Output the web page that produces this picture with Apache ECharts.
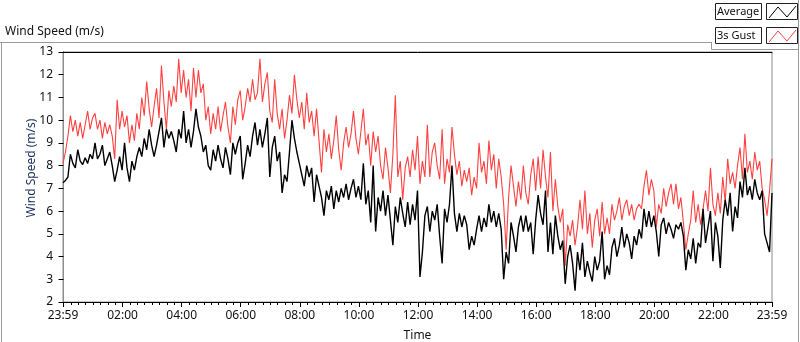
<!DOCTYPE html>
<html>
<head>
<meta charset="utf-8">
<script src="https://cdn.jsdelivr.net/npm/echarts@6/dist/echarts.min.js"></script>
<style>
  html, body { margin: 0; padding: 0; background: #fff; }
  #chart { width: 800px; height: 342px; }
</style>
</head>
<body>
<div id="chart"></div>
<script>
// samples every 5 minutes, starting at 23:59 of the previous day
var startMinute = -1;
var stepMinutes = 5;

var avgSpeed = [
  7.25, 7.35, 7.5, 8.5, 8.1, 7.9, 8.7, 8.2, 8.05, 8.35,
  8.1, 8.5, 8.3, 9.0, 8.3, 8.5, 8.9, 8.0, 8.3, 8.6,
  8.0, 7.3, 7.8, 8.4, 7.8, 9.0, 7.9, 7.3, 8.2, 7.8,
  8.4, 8.8, 8.4, 9.2, 8.7, 9.6, 8.9, 8.4, 8.9, 9.5,
  10.1, 8.8, 9.6, 9.2, 9.5, 9.1, 8.6, 9.6,
  9.2, 10.4, 9.0, 9.6, 8.8, 9.5, 10.5, 9.7, 9.3, 8.6,
  8.9, 8.0, 7.8, 8.7, 8.2, 8.9, 8.3, 7.9, 8.8, 8.3,
  7.6, 9.0, 8.5, 9.0, 9.3, 7.4, 8.1, 8.9, 8.4, 9.3,
  9.9, 8.9, 9.6, 8.8, 9.4, 10.1, 7.5, 8.8, 9.3, 8.2,
  8.6, 6.8, 7.6, 7.3, 8.6, 10.0, 9.2,
  8.6, 8.1, 7.6, 7.1, 8.0, 7.5, 7.9, 6.4, 7.6, 7.1,
  6.6, 5.8, 6.9, 6.5, 7.1, 6.1, 6.9, 6.4, 7.0, 6.6,
  7.2, 6.5, 7.0, 7.4, 6.6, 7.1, 6.5, 8.1, 6.3, 6.9,
  5.5, 8.0, 5.1, 6.6, 6.0, 6.9, 5.8, 6.7, 5.6, 4.5,
  6.2, 5.5, 6.6, 5.9, 5.3, 6.4, 5.4,
  6.3, 5.6, 6.9, 3.1, 4.2, 5.8, 6.2, 5.1, 6.0, 5.6,
  6.3, 4.9, 3.7, 6.1, 5.5, 6.3, 8.0, 5.9, 5.1, 5.9,
  5.3, 5.8, 5.4, 4.3, 4.9, 4.5, 5.2, 5.8, 5.1, 5.7,
  5.3, 6.3, 5.5, 6.0, 5.3, 5.9, 5.2, 3.0, 4.2, 3.7,
  5.5, 4.9, 4.2, 5.3, 5.8, 5.1, 5.8,
  5.1, 5.5, 4.1, 5.6, 6.7, 5.9, 5.4, 6.9, 4.2, 5.5,
  4.1, 5.8, 4.9, 4.3, 4.7, 2.8, 4.0, 4.5, 3.7, 2.5,
  4.2, 3.4, 4.6, 3.1, 3.8, 3.3, 2.9, 4.0, 3.4, 3.8,
  5.1, 3.0, 3.6, 3.2, 4.4, 4.8, 4.0, 4.5, 5.3, 4.4,
  5.0, 4.6, 3.9, 4.9, 4.5, 5.2, 4.8,
  6.1, 5.3, 6.0, 5.3, 5.8, 5.1, 4.0, 5.4, 5.7, 5.0,
  5.5, 5.2, 4.8, 5.4, 5.2, 5.5, 4.9, 3.4, 4.3, 3.9,
  4.8, 3.7, 4.6, 4.4, 6.1, 4.6, 5.3, 6.0, 3.8, 5.5,
  4.9, 3.5, 5.6, 6.5, 5.8, 6.8, 5.1, 6.2, 5.7, 7.3,
  6.6, 7.9, 6.7, 7.1, 6.5, 7.4, 6.8, 6.5, 6.9, 5.0,
  4.6, 4.2, 6.8
];

var gustSpeed = [
  8.1, 8.6, 9.3, 10.2, 9.5, 10.0, 9.3, 9.9, 9.2, 9.8,
  10.4, 9.6, 10.1, 10.3, 9.6, 10.0, 9.2, 9.9, 9.4, 9.8,
  9.3, 8.3, 10.9, 9.6, 10.4, 9.7, 10.2, 9.0, 9.8, 9.1,
  10.3, 9.6, 11.0, 10.2, 11.7, 10.5, 9.7, 10.6, 11.4, 10.1,
  12.4, 10.8, 9.6, 11.3, 10.6, 11.5, 10.8, 12.7,
  11.2, 12.2, 11.0, 11.8, 10.4, 12.3, 11.0, 12.2, 11.2, 11.6,
  10.0, 10.6, 9.4, 10.3, 9.6, 10.6, 9.5, 10.2, 10.8, 9.7,
  9.0, 10.6, 9.8, 10.9, 11.3, 10.0, 10.6, 11.4, 10.8, 11.8,
  10.9, 11.2, 12.7, 10.8, 11.6, 12.1, 10.4, 9.9, 11.8, 10.3,
  9.6, 10.5, 9.2, 10.0, 11.1, 10.3, 12.0,
  10.9, 10.1, 10.8, 9.6, 11.2, 9.9, 10.4, 9.3, 10.5, 9.1,
  7.7, 9.6, 8.6, 9.4, 8.3, 9.1, 10.2, 8.7, 7.8, 9.0,
  9.7, 8.8, 9.4, 10.4, 9.2, 8.5, 9.5, 10.5, 8.9, 9.4,
  8.0, 9.5, 8.6, 9.3, 8.0, 7.4, 8.8, 7.9, 6.8, 8.5,
  11.1, 7.5, 8.2, 6.5, 7.9, 8.4, 7.5,
  8.7, 7.8, 9.3, 7.2, 8.2, 7.5, 9.8, 7.5, 8.6, 9.0,
  8.0, 7.4, 9.6, 7.2, 8.3, 7.7, 9.7, 8.5, 7.6, 8.2,
  7.1, 7.8, 7.3, 7.9, 6.7, 7.5, 7.0, 9.0, 7.7, 8.2,
  7.2, 9.1, 7.8, 8.5, 7.0, 8.3, 7.5, 6.3, 4.3, 6.6,
  8.0, 7.1, 6.2, 7.3, 6.5, 8.0, 6.8,
  6.3, 7.6, 8.3, 6.9, 8.4, 7.0, 8.7, 7.5, 6.6, 8.6,
  6.0, 7.4, 6.2, 5.5, 6.1, 3.6, 5.4, 4.9, 5.6, 4.5,
  5.3, 6.5, 5.2, 6.9, 5.0, 5.9, 4.4, 5.6, 6.1, 4.9,
  6.4, 5.0, 5.7, 5.0, 6.3, 5.6, 6.0, 6.6, 5.6, 6.2,
  6.5, 5.8, 6.3, 5.6, 6.1, 6.3, 6.1,
  7.1, 7.8, 6.7, 7.4, 6.9, 5.3, 6.3, 5.9, 7.0, 6.2,
  6.8, 7.2, 6.3, 7.2, 6.1, 6.6, 5.5, 4.3, 5.0, 5.6,
  6.9, 5.5, 6.3, 5.4, 6.1, 6.9, 6.0, 7.9, 6.3, 5.8,
  6.8, 5.9, 7.5, 6.4, 8.3, 7.2, 7.7, 7.0, 8.0, 8.8,
  7.4, 9.4, 7.7, 8.2, 7.4, 8.6, 7.8, 8.2, 7.0, 6.5,
  5.8, 6.9, 8.3
];

// time axis ticks (minutes from midnight)
var majorTicks = [-1, 120, 240, 360, 480, 600, 720, 840, 960, 1080, 1200, 1320, 1439];
var minorTicks = [];
for (var m = 15; m < 1439; m += 15) {
  if (m % 120 !== 0) minorTicks.push(m);
}

function toPairs(values) {
  return values.map(function (v, i) { return [startMinute + i * stepMinutes, v]; });
}

function fmtTime(v) {
  if (v < 0 || v >= 1439) return '23:59';
  var h = Math.floor(v / 60), mm = v % 60;
  return (h < 10 ? '0' : '') + h + ':' + (mm < 10 ? '0' : '') + mm;
}

var FONT = 'Noto Sans';
var chart = echarts.init(document.getElementById('chart'), null, { renderer: 'canvas' });

var option = {
  animation: false,
  backgroundColor: '#ffffff',
  textStyle: { fontFamily: FONT },
  grid: {
    left: 63, right: 28, top: 52, bottom: 40,
    outerBoundsMode: 'none', containLabel: false,
    show: true, borderColor: '#8c8c8c', borderWidth: 1, backgroundColor: '#ffffff'
  },
  xAxis: [
    {
      type: 'value', min: -1, max: 1439, position: 'bottom',
      name: 'Time', nameLocation: 'middle', nameGap: 28, nameMoveOverlap: false,
      nameTextStyle: { color: '#111', fontSize: 12, fontFamily: FONT },
      axisLine: { lineStyle: { color: '#000', width: 1 } },
      axisTick: { customValues: majorTicks, length: 5, lineStyle: { color: '#000' } },
      axisLabel: {
        customValues: majorTicks, formatter: fmtTime, margin: 8,
        color: '#111', fontSize: 12, fontFamily: FONT
      },
      splitLine: { show: false }
    },
    {
      type: 'value', min: -1, max: 1439, position: 'bottom',
      axisLine: { show: false },
      axisTick: { customValues: minorTicks, length: 3, lineStyle: { color: '#000' } },
      axisLabel: { show: false },
      splitLine: { show: false }
    },
    {
      type: 'value', min: -1, max: 1439, position: 'top',
      axisLine: { lineStyle: { color: '#000', width: 1 } },
      axisTick: { show: false },
      axisLabel: { show: false },
      splitLine: { show: false }
    }
  ],
  yAxis: [
    {
      type: 'value', min: 2, max: 13, interval: 1, position: 'left',
      name: 'Wind Speed (m/s)', nameLocation: 'middle', nameGap: 25, nameRotate: 90,
      nameMoveOverlap: false,
      nameTextStyle: { color: '#1b2f5e', fontSize: 12, fontFamily: FONT, padding: [0, 0, 0, 18] },
      axisLine: { show: true, lineStyle: { color: '#000', width: 1 } },
      axisTick: { show: true, length: 5, lineStyle: { color: '#000' } },
      axisLabel: { margin: 10, color: '#111', fontSize: 12, fontFamily: FONT },
      splitLine: { show: false }
    },
    {
      type: 'value', min: 2, max: 13, position: 'right',
      axisLine: { show: true, lineStyle: { color: '#8c8c8c', width: 1 } },
      axisTick: { show: false },
      axisLabel: { show: false },
      splitLine: { show: false }
    }
  ],
  series: [
    {
      name: '3s Gust', type: 'line', xAxisIndex: 0, yAxisIndex: 0,
      data: toPairs(gustSpeed), showSymbol: false, symbol: 'none', sampling: null,
      lineStyle: { color: '#ff4040', width: 1.1 }, z: 2
    },
    {
      name: 'Average', type: 'line', xAxisIndex: 0, yAxisIndex: 0,
      data: toPairs(avgSpeed), showSymbol: false, symbol: 'none', sampling: null,
      lineStyle: { color: '#000000', width: 1.4 }, z: 3
    }
  ],
  graphic: [
    // outer chart frame
    { type: 'line', shape: { x1: 0, y1: 42.5, x2: 712, y2: 42.5 }, style: { stroke: '#9a9a9a', lineWidth: 1 } },
    { type: 'line', shape: { x1: 1.5, y1: 42, x2: 1.5, y2: 342 }, style: { stroke: '#9a9a9a', lineWidth: 1 } },
    { type: 'line', shape: { x1: 798.5, y1: 0, x2: 798.5, y2: 342 }, style: { stroke: '#9a9a9a', lineWidth: 1 } },
    { type: 'line', shape: { x1: 711.5, y1: 42, x2: 711.5, y2: 49.5 }, style: { stroke: '#9a9a9a', lineWidth: 1 } },
    { type: 'line', shape: { x1: 711.5, y1: 49.5, x2: 799, y2: 49.5 }, style: { stroke: '#9a9a9a', lineWidth: 1 } },
    // chart label
    { type: 'text', x: 5, y: 32, style: { text: 'Wind Speed (m/s)', fill: '#111', font: '12px "Noto Sans"', verticalAlign: 'middle' } },
    // legend
    { type: 'rect', shape: { x: 715.5, y: 3.5, width: 46, height: 16 }, style: { fill: '#fff', stroke: '#222', lineWidth: 1 } },
    { type: 'text', x: 717, y: 12, style: { text: 'Average', fill: '#111', font: '11px "Noto Sans"', verticalAlign: 'middle' } },
    { type: 'rect', shape: { x: 766.5, y: 3.5, width: 31, height: 16 }, style: { fill: '#fff', stroke: '#222', lineWidth: 1 } },
    { type: 'polyline', shape: { points: [[769, 18], [778, 7], [787, 17], [796, 6]] }, style: { stroke: '#000', lineWidth: 1, fill: null } },
    { type: 'rect', shape: { x: 715.5, y: 27.5, width: 46, height: 16 }, style: { fill: '#fff', stroke: '#222', lineWidth: 1 } },
    { type: 'text', x: 717, y: 36, style: { text: '3s Gust', fill: '#111', font: '11px "Noto Sans"', verticalAlign: 'middle' } },
    { type: 'rect', shape: { x: 766.5, y: 27.5, width: 31, height: 16 }, style: { fill: '#fff', stroke: '#222', lineWidth: 1 } },
    { type: 'polyline', shape: { points: [[769, 42], [778, 31], [787, 41], [796, 30]] }, style: { stroke: '#ff4040', lineWidth: 1, fill: null } }
  ]
};

chart.setOption(option);
</script>
</body>
</html>
